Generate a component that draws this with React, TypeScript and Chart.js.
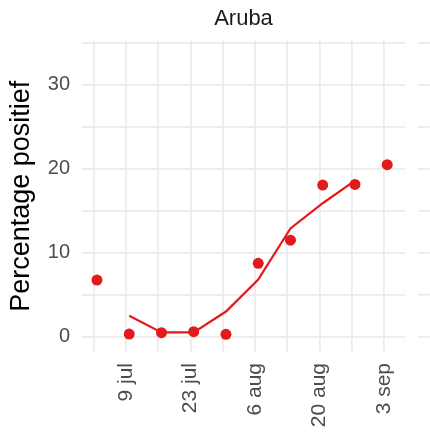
import React, { useEffect, useRef } from 'react';
import { Chart, registerables } from 'chart.js';

Chart.register(...registerables);

// ---- data (days counted from 1 July) ----
const panelTitle = 'Aruba';
const yAxisTitle = 'Percentage positief';
const pointDays = [1.7, 8.7, 15.7, 22.7, 29.7, 36.7, 43.7, 50.7, 57.7, 64.7];
const pointValues = [6.75, 0.32, 0.48, 0.6, 0.29, 8.74, 11.5, 18.06, 18.14, 20.5];
const trendDays = [8.7, 15.7, 22.7, 29.7, 36.7, 43.7, 50.7, 57.7];
const trendValues = [2.5, 0.52, 0.52, 3.0, 6.8, 12.9, 15.9, 18.6];
const xTickDays = [1, 8, 15, 22, 29, 36, 43, 50, 57, 64];
const xTickLabels = ['', '9 jul', '', '23 jul', '', '6 aug', '', '20 aug', '', '3 sep'];
const yTickValues = [0, 5, 10, 15, 20, 25, 30, 35];
const yTickLabels = ['0', '', '10', '', '20', '', '30', ''];

const RED = '#e31a1c';
const GRID = '#ebebeb';
const FONT = "'Liberation Sans', Arial, sans-serif";

const neighbourPanel = {
  id: 'neighbourPanel',
  beforeDatasetsDraw(chart: any) {
    const { ctx, chartArea, scales } = chart;
    const y = scales.y;
    ctx.save();
    ctx.strokeStyle = GRID;
    ctx.lineWidth = 1.8;
    yTickValues.forEach((v) => {
      const py = y.getPixelForValue(v);
      ctx.beginPath();
      ctx.moveTo(chartArea.right + 13, py);
      ctx.lineTo(chart.width, py);
      ctx.stroke();
    });
    ctx.restore();
  },
};

export default function App() {
  const ref = useRef<HTMLCanvasElement | null>(null);

  useEffect(() => {
    if (!ref.current) return;
    const points = pointDays.map((d, i) => ({ x: d, y: pointValues[i] }));
    const trend = trendDays.map((d, i) => ({ x: d, y: trendValues[i] }));
    const chart = new Chart(ref.current, {
      type: 'scatter',
      data: {
        datasets: [
          {
            type: 'scatter',
            data: points,
            backgroundColor: RED,
            borderWidth: 0,
            pointRadius: 5.5,
          },
          {
            type: 'line',
            data: trend,
            borderColor: RED,
            borderWidth: 2.2,
            pointRadius: 0,
            fill: false,
            tension: 0,
          },
        ],
      } as any,
      options: {
        animation: false,
        responsive: false,
        layout: { padding: { left: 0, right: 25, top: 0, bottom: 0 } },
        plugins: {
          legend: { display: false },
          tooltip: { enabled: false },
          title: {
            display: true,
            fullSize: false,
            text: panelTitle,
            color: '#1a1a1a',
            font: { family: FONT, size: 22, weight: 'normal' },
            padding: { top: 6, bottom: 8 },
          },
        },
        scales: {
          x: {
            type: 'linear',
            min: -1.55,
            max: 68.56,
            afterBuildTicks: (s: any) => {
              s.ticks = xTickDays.map((v) => ({ value: v }));
            },
            afterFit: (s: any) => {
              s.height = 82;
            },
            ticks: {
              autoSkip: false,
              minRotation: 90,
              maxRotation: 90,
              padding: 11,
              color: '#4d4d4d',
              font: { family: FONT, size: 21 },
              callback: (v: any) => {
                const i = xTickDays.indexOf(Number(v));
                return i >= 0 ? xTickLabels[i] : '';
              },
            },
            grid: { color: GRID, lineWidth: 1.8, drawTicks: false },
            border: { display: false },
          },
          y: {
            type: 'linear',
            min: -1.82,
            max: 35.3,
            afterBuildTicks: (s: any) => {
              s.ticks = yTickValues.map((v) => ({ value: v }));
            },
            afterFit: (s: any) => {
              s.width = 82;
            },
            ticks: {
              autoSkip: false,
              padding: 12,
              color: '#4d4d4d',
              font: { family: FONT, size: 20 },
              callback: (v: any) => {
                const i = yTickValues.indexOf(Number(v));
                return i >= 0 ? yTickLabels[i] : '';
              },
            },
            grid: { color: GRID, lineWidth: 1.8, drawTicks: false },
            border: { display: false },
            title: {
              display: true,
              text: yAxisTitle,
              color: '#000000',
              font: { family: FONT, size: 27 },
              padding: { top: 5, bottom: 0 },
            },
          },
        },
      } as any,
      plugins: [neighbourPanel],
    });
    return () => chart.destroy();
  }, []);

  return (
    <div style={{ position: 'fixed', left: 0, top: 0, width: 430, height: 434, background: '#ffffff' }}>
      <canvas ref={ref} width={430} height={434} style={{ width: 430, height: 434, display: 'block' }} />
    </div>
  );
}
